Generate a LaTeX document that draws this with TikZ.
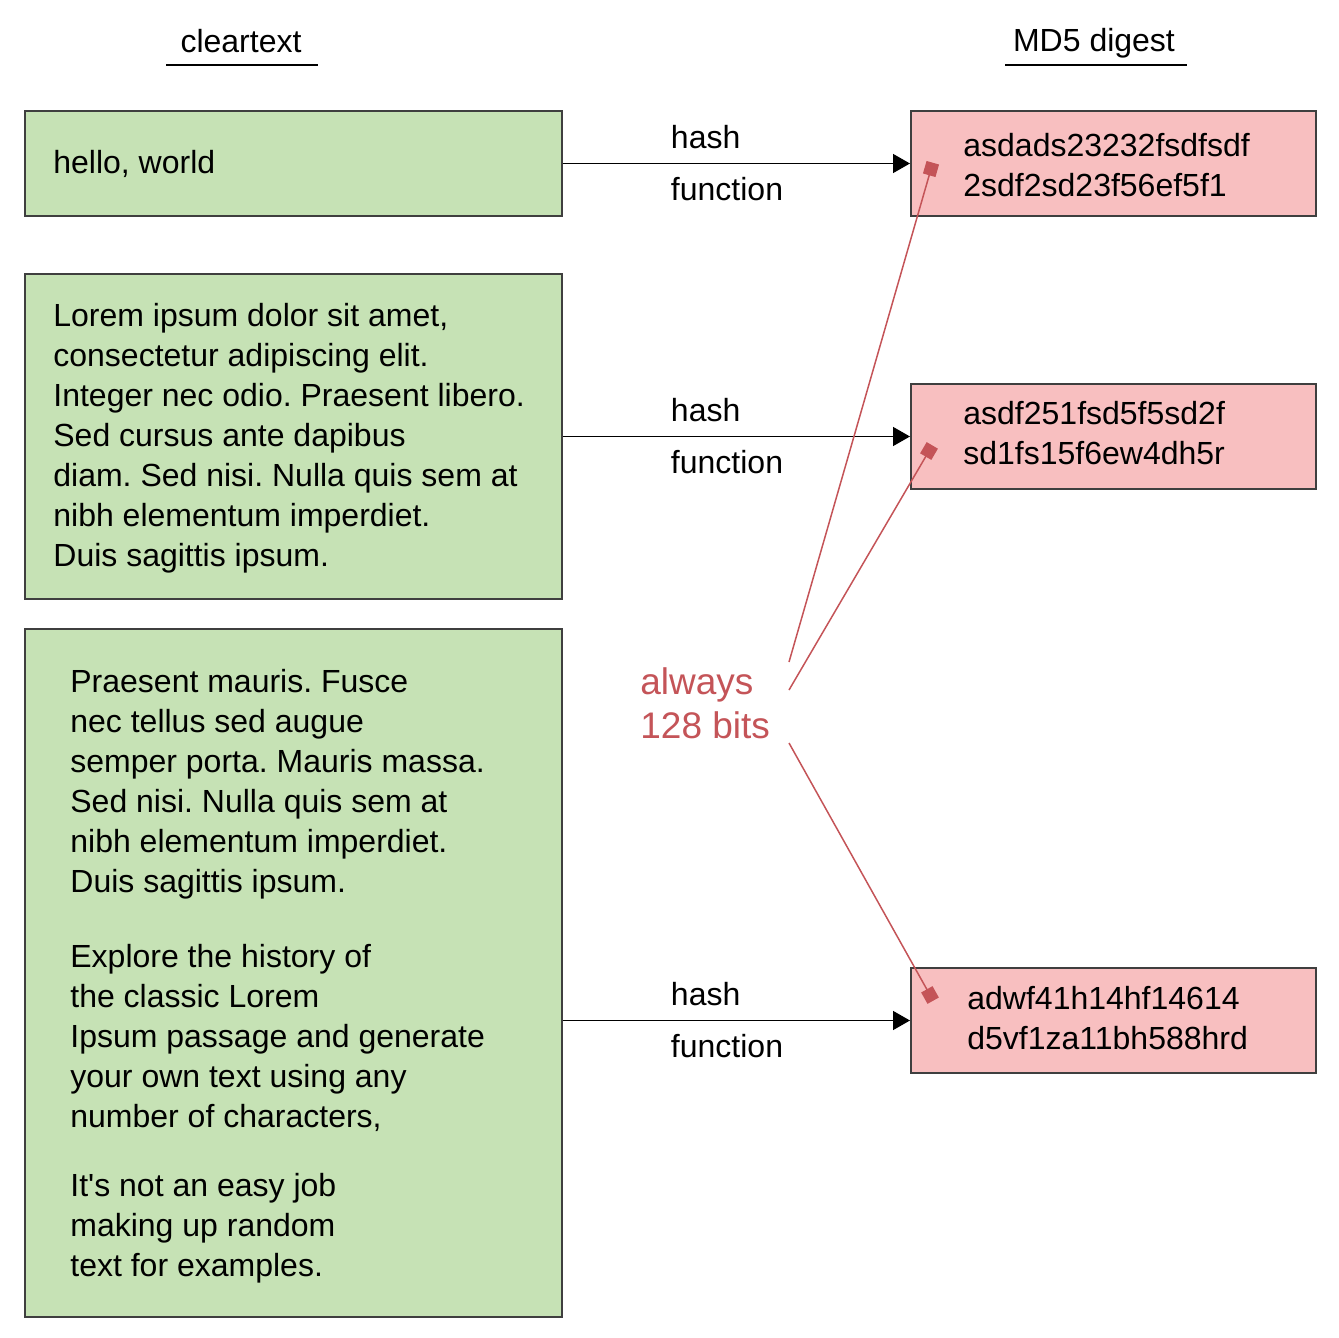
\documentclass[tikz,border=0pt]{standalone}
\usepackage{fontspec}
\setmainfont{Liberation Sans}
\newfontfamily\plainquote{Liberation Sans}
\usetikzlibrary{arrows.meta}
\definecolor{gfill}{HTML}{C6E2B5}
\definecolor{pfill}{HTML}{F8BFC0}
\definecolor{redc}{HTML}{C45458}
\definecolor{bord}{HTML}{3F3F3F}
\frenchspacing
\begin{document}
\begin{tikzpicture}[x=0.5pt,y=-0.5pt,
  box/.style={draw=bord, line width=1pt, inner sep=0pt, anchor=north west},
  gbox/.style={box, fill=gfill, minimum width=268.5pt},
  pbox/.style={box, fill=pfill, minimum width=202.5pt, minimum height=52.5pt},
  txt/.style={font=\fontsize{16}{20}\selectfont, align=left, inner sep=0pt, anchor=west},
  hdr/.style={font=\fontsize{16}{20}\selectfont, inner sep=0pt},
  arr/.style={line width=0.75pt, -{Triangle[length=8.5pt,width=9.5pt]}},
  lab/.style={font=\fontsize{16}{20}\selectfont, inner sep=0pt, anchor=west},
  redline/.style={draw=redc, line width=0.75pt, -{Square[length=6.5pt,width=6.5pt]}, shorten >=-3.25pt},
]
\useasboundingbox (0,0) rectangle (1339,1338);
% headers
\node[hdr] (h1) at (241,41) {cleartext};
\node[hdr] (h2) at (1094,43) {MD5 digest};
\draw[line width=0.75pt] (166,65) -- (318,65);
\draw[line width=0.75pt] (1005,65) -- (1187,65);
% green boxes
\node[gbox, minimum height=52.5pt] (g1) at (24,110) {};
\node[gbox, minimum height=162.5pt] (g2) at (24,273) {};
\node[gbox, minimum height=344pt] (g3) at (24,628) {};
% pink boxes
\node[pbox] (p1) at (910,110) {};
\node[pbox] (p2) at (910,383) {};
\node[pbox] (p3) at (910,967) {};
% texts
\node[txt] (t1) at (53,164) {hello, world};
\node[txt] (t2) at (53,438) {Lorem ipsum dolor sit amet,\\consectetur adipiscing elit.\\Integer nec odio. Praesent libero.\\Sed cursus ante dapibus\\diam. Sed nisi. Nulla quis sem at\\nibh elementum imperdiet.\\Duis sagittis ipsum.};
\node[txt] (t3a) at (70,784) {Praesent mauris. Fusce\\nec tellus sed augue\\semper porta. Mauris massa.\\Sed nisi. Nulla quis sem at\\nibh elementum imperdiet.\\Duis sagittis ipsum.};
\node[txt] (t3b) at (70,1038) {Explore the history of\\the classic Lorem\\Ipsum passage and generate\\your own text using any\\number of characters,};
\node[txt] (t3c) at (70,1228) {It{\plainquote '}s not an easy job\\making up random\\text for examples.};
\node[txt] (q1) at (963,165) {asdads23232fsdfsdf\\2sdf2sd23f56ef5f1};
\node[txt] (q2) at (963,433) {asdf251fsd5f5sd2f\\sd1fs15f6ew4dh5r};
\node[txt] (q3) at (967,1018) {adwf41h14hf14614\\d5vf1za11bh588hrd};
% arrows
\draw[arr] (g1.east) -- node[lab, pos=0.309, yshift=13pt] {hash} node[lab, pos=0.309, yshift=-13pt] {function} (p1.west);
\draw[arr] (g2.east) -- node[lab, pos=0.309, yshift=13pt] {hash} node[lab, pos=0.309, yshift=-13pt] {function} (p2.west);
\draw[arr] (p3.west -| g3.east) -- node[lab, pos=0.309, yshift=13pt] {hash} node[lab, pos=0.309, yshift=-13pt] {function} (p3.west);
% red annotation
\node[font=\fontsize{18.5}{22}\selectfont, text=redc, align=left, inner sep=0pt, anchor=west] (al) at (640,703) {always\\128 bits};
\coordinate (s1) at (789,662);
\coordinate (s2) at (789,690);
\coordinate (s3) at (789,743);
\coordinate (m1) at (931,169);
\coordinate (m2) at (929,451);
\coordinate (m3) at (930,995);
\draw[redline] (s1) -- (m1);
\draw[redline] (s2) -- (m2);
\draw[redline] (s3) -- (m3);
\end{tikzpicture}
\end{document}
